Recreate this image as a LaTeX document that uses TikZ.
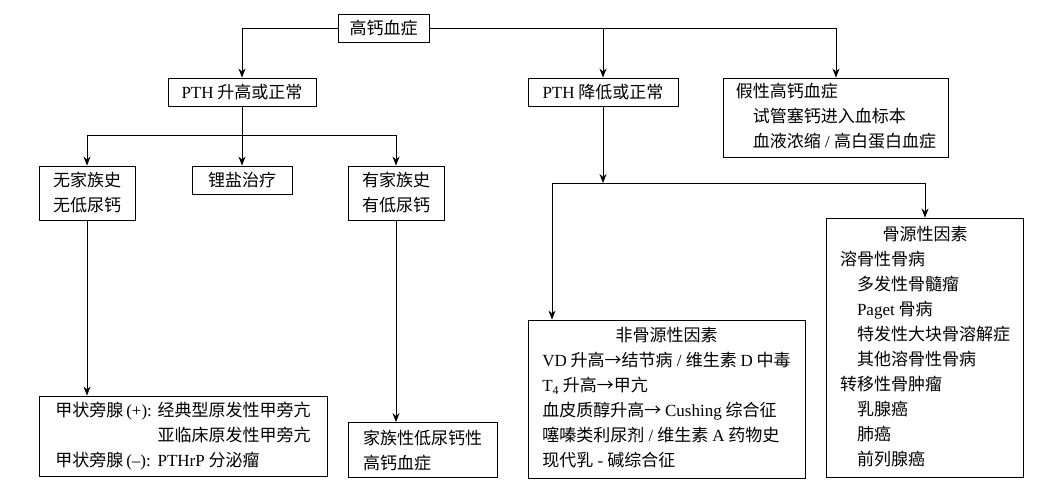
\documentclass[tikz,border=0pt]{standalone}
\usepackage{fontspec}
\setmainfont{Noto Sans CJK SC}
\newfontfamily\latfam{Liberation Serif}
\newcommand{\latx}[1]{{\latfam #1}}
\newcommand{\rarr}{\makebox[1em]{→}}
\usetikzlibrary{arrows.meta}
\begin{document}
\begin{tikzpicture}[x=1pt,y=-1pt,
  box/.style={draw,line width=0.9pt,inner sep=2pt,font=\fontsize{17}{25}\selectfont,anchor=center},
  arr/.style={line width=0.9pt,-{Stealth[length=9pt,width=7pt]}},
  ln/.style={line width=0.9pt}]
\useasboundingbox (0,0) rectangle (1062,491);
% level 0
\node[box,minimum width=91pt,minimum height=28pt] (top) at (383.5,28) {高钙血症};
% level 1
\node[box,minimum width=148pt,minimum height=28pt] (pthu) at (242,92) {\latx{PTH} 升高或正常};
\node[box,minimum width=150pt,minimum height=28pt] (pthd) at (603,92) {\latx{PTH} 降低或正常};
\node[box,minimum width=225pt,minimum height=79pt] (fake) at (836,117.5) {\begin{tabular}{@{}l@{}}
假性高钙血症\\
\hspace*{1em}试管塞钙进入血标本\\
\hspace*{1em}血液浓缩\latx{ / }高白蛋白血症
\end{tabular}};
% level 2 left
\node[box,minimum width=96pt,minimum height=54pt,align=center] (wu) at (87,193) {无家族史\\无低尿钙};
\node[box,minimum width=100pt,minimum height=28pt] (li) at (242,180) {锂盐治疗};
\node[box,minimum width=96pt,minimum height=54pt,align=center] (you) at (396,193) {有家族史\\有低尿钙};
% level 3 left
\node[box,minimum width=288pt,minimum height=80pt] (jia) at (183,436) {\begin{tabular}{@{}l@{}l@{}}
甲状旁腺\,\latx{(+):}\,\, & 经典型原发性甲旁亢\\
 & 亚临床原发性甲旁亢\\
甲状旁腺\,\latx{(–):}\,\, & \latx{PTHrP} 分泌瘤
\end{tabular}};
\node[box,minimum width=149pt,minimum height=55pt,align=left] (fam) at (422.5,450) {家族性低尿钙性\\高钙血症};
% right branch
\node[box,minimum width=277pt,minimum height=158pt] (nong) at (666.5,399) {\begin{tabular}{@{}l@{}}
\multicolumn{1}{@{}c@{}}{非骨源性因素}\\
\latx{VD} 升高\rarr 结节病\latx{ / }维生素 \latx{D} 中毒\\
\latx{T\textsubscript{4}} 升高\rarr 甲亢\\
血皮质醇升高\rarr\ \latx{Cushing} 综合征\\
噻嗪类利尿剂\latx{ / }维生素 \latx{A} 药物史\\
现代乳\latx{ - }碱综合征
\end{tabular}};
\node[box,minimum width=197pt,minimum height=259pt] (gu) at (925,347.5) {\begin{tabular}{@{}l@{}}
\multicolumn{1}{@{}c@{}}{骨源性因素}\\
溶骨性骨病\\
\hspace*{1em}多发性骨髓瘤\\
\hspace*{1em}\latx{Paget} 骨病\\
\hspace*{1em}特发性大块骨溶解症\\
\hspace*{1em}其他溶骨性骨病\\
转移性骨肿瘤\\
\hspace*{1em}乳腺癌\\
\hspace*{1em}肺癌\\
\hspace*{1em}前列腺癌
\end{tabular}};
% junction coordinates
\coordinate (b1) at (242,135);
\coordinate (b2) at (603,183);
\coordinate (b2l) at (552,183);
\coordinate (b2r) at (925,183);
% connectors
\draw[arr] (top.west) -| (pthu.north);
\draw[arr] (top.east) -| (fake.north);
\draw[arr] (top.east -| pthd.north) -- (pthd.north);
\draw[arr] (pthu.south) -- (li.north);
\draw[arr] (b1) -| (wu.north);
\draw[arr] (b1) -| (you.north);
\draw[arr] (wu.south) -- (wu.south |- jia.north);
\draw[arr] (you.south) -- (you.south |- fam.north);
\draw[arr] (pthd.south) -- (b2);
\draw[ln] (b2l) -- (b2r);
\draw[arr] (b2l) -- (b2l |- nong.north);
\draw[arr] (b2r) -- (gu.north);
\end{tikzpicture}
\end{document}
